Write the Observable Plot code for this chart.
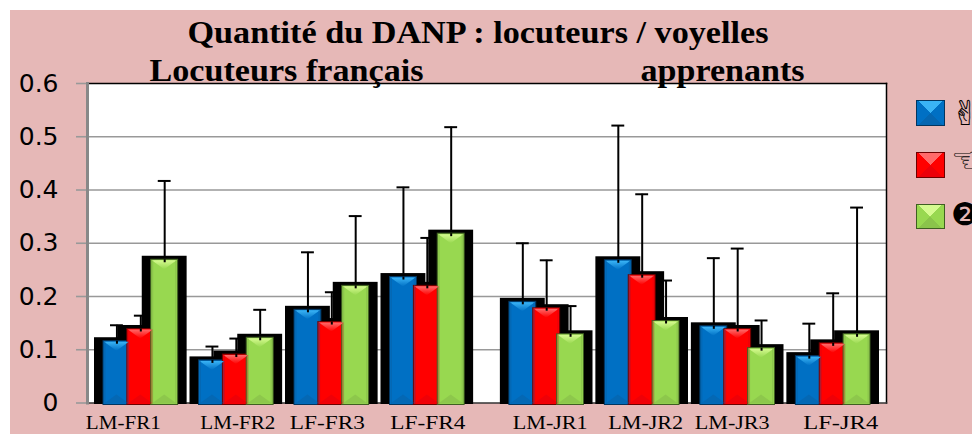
<!DOCTYPE html>
<html><head><meta charset="utf-8">
<script src="https://cdn.jsdelivr.net/npm/d3@7"></script>
<script src="https://cdn.jsdelivr.net/npm/@observablehq/plot@0.6"></script>
<style>
html,body{margin:0;padding:0;background:#fff;width:972px;height:434px;overflow:hidden}
#bg{position:absolute;left:10px;top:10px;right:0;bottom:0;background:#e6b8b7}
#chart{position:absolute;left:0;top:0}
#chart svg{background:transparent;display:block}
.sw{position:absolute;left:916px;width:27px;box-sizing:content-box;border:1px solid}
.gl{position:absolute;left:951px;white-space:nowrap;font-family:"DejaVu Sans";color:#000;line-height:1}
</style></head><body>
<div id="bg"></div><div id="chart"></div><div id="legend"></div>
<script>
const speakers = ["LM-FR1","LM-FR2","LF-FR3","LF-FR4","LM-JR1","LM-JR2","LM-JR3","LF-JR4"];
const seriesNames = ["✌","☜","❷"];
const blueValues = [0.116,0.080,0.175,0.2365,0.190,0.268,0.144,0.088];
const redValues  = [0.139,0.091,0.152,0.220,0.178,0.240,0.139,0.112];
const greenValues= [0.269,0.1225,0.220,0.318,0.129,0.154,0.103,0.129];
const blueTops   = [0.146,0.106,0.283,0.405,0.300,0.521,0.272,0.149];
const redTops    = [0.164,0.121,0.208,0.310,0.268,0.392,0.290,0.206];
const greenTops  = [0.417,0.175,0.351,0.518,0.182,0.230,0.155,0.367];
const yTicks = [0,0.1,0.2,0.3,0.4,0.5,0.6];

const colors = [
 {fill:"#0070c4",stroke:"#03355f",light:"#3ab4f6",dark:"#0a5c9e"},
 {fill:"#ff0000",stroke:"#6e0000",light:"#ff6a6a",dark:"#d80012"},
 {fill:"#98d850",stroke:"#3f5f22",light:"#d6fb90",dark:"#7db046"}
];
const valueSets=[blueValues,redValues,greenValues], topSets=[blueTops,redTops,greenTops];
const rows=[]; const domain=[];
speakers.forEach((s,i)=>{
  if(i>0) domain.push("gap"+i);
  if(i===4) domain.push("gapMid");
  valueSets.forEach((vals,k)=>{
    const slot=s+"|"+k; domain.push(slot);
    rows.push({slot,speaker:s,series:k,value:vals[i],top:topSets[k][i]});
  });
});

function bevel(index,scales,values,dims,ctx,next){
  const g=next(index,scales,values,dims,ctx);
  const ns="http://www.w3.org/2000/svg";
  const rects=[...g.querySelectorAll("rect")];
  rects.forEach((r,n)=>{
    const x=+r.getAttribute("x"),y=+r.getAttribute("y"),w=+r.getAttribute("width"),h=+r.getAttribute("height");
    const k=rows[index[n]].series, c=colors[k];
    const add=(pts,fill,op)=>{const p=document.createElementNS(ns,"polygon");
      p.setAttribute("points",pts.map(q=>q.join(",")).join(" "));p.setAttribute("fill",fill);
      if(op!=null)p.setAttribute("fill-opacity",op);g.appendChild(p);};
    const t=Math.min(10,h/2);
    add([[x+1,y+1],[x+w-1,y+1],[x+w/2,y+t]],`url(#top${k})`);
    add([[x+1,y+h-1],[x+w-1,y+h-1],[x+w/2,y+h-t]],c.dark,0.4);
    add([[x+1,y+1],[x+2.5,y+1],[x+2.5,y+h-1],[x+1,y+h-1]],c.dark,0.4);
    add([[x+w-2.5,y+1],[x+w-1,y+1],[x+w-1,y+h-1],[x+w-2.5,y+h-1]],c.dark,0.4);
  });
  return g;
}

const labelShift=[-16,3,-3,2,5,5,-4,9];
const serif="Liberation Serif";
const titleText="Quantité du DANP : locuteurs / voyelles", leftHead="Locuteurs français", rightHead="apprenants";
const stretched=new Map([[titleText,581],[leftHead,274],[rightHead,164],...speakers.map(s=>[s,75])]);

const plot=Plot.plot({
  width:972,height:434,
  marginLeft:87,marginRight:86,marginTop:83,marginBottom:31.5,
  style:{background:"transparent",overflow:"visible"},
  x:{type:"band",domain,range:[103,867],padding:0,round:false,axis:null},
  y:{domain:[0,0.6],axis:null},
  marks:[
    Plot.frame({fill:"#fff",stroke:"none"}),
    Plot.ruleY(yTicks.slice(1,-1),{stroke:"#999",strokeWidth:1.6}),
    Plot.axisY({ticks:yTicks,tickSize:11,tickPadding:18,stroke:"#999",strokeWidth:1.6,strokeOpacity:1,
      tickFormat:d=>d===0?"0":d.toFixed(1),fontSize:25,fontFamily:"DejaVu Sans",fill:"#000",label:null,marginLeft:87}),
    Plot.frame({anchor:"top",stroke:"#000",strokeWidth:1.5}),
    Plot.frame({anchor:"right",stroke:"#000",strokeWidth:1.5}),
    Plot.frame({anchor:"bottom",stroke:"#333",strokeWidth:1.5}),
    Plot.frame({anchor:"left",stroke:"#888",strokeWidth:3}),
    Plot.ruleX(rows,{x:"slot",y1:"value",y2:"top",dx:1.5,stroke:"#000",strokeWidth:2}),
    Plot.tickY(rows,{x:"slot",y:"top",dx:1.5,insetLeft:5.5,insetRight:5.5,stroke:"#000",strokeWidth:2}),
    Plot.barY(rows,{x:"slot",y:"value",fill:"#000",insetLeft:-9,insetRight:-12,insetTop:-3.5,insetBottom:-1.5}),
    Plot.barY(rows,{x:"slot",y:"value",fill:d=>colors[d.series].fill,stroke:d=>colors[d.series].stroke,strokeWidth:1,insetRight:-3,insetBottom:-2,render:bevel}),
    Plot.ruleX(rows,{x:"slot",y1:"value",y2:"value",dx:1.5,insetBottom:-3,stroke:"#000",strokeWidth:2}),
    ...speakers.map((s,i)=>Plot.text([s],{x:()=>s+"|1",text:d=>d,frameAnchor:"bottom",dy:26,dx:labelShift[i],
      fontFamily:serif,fontSize:19.5,fill:"#000"})),
    Plot.text([titleText],{text:d=>d,frameAnchor:"top-left",textAnchor:"start",lineAnchor:"bottom",dx:100,dy:-41,
      fontFamily:serif,fontWeight:"bold",fontSize:32,fill:"#000"}),
    Plot.text([leftHead],{text:d=>d,frameAnchor:"top-left",textAnchor:"start",lineAnchor:"bottom",dx:62,dy:-3,
      fontFamily:serif,fontWeight:"bold",fontSize:32,fill:"#000"}),
    Plot.text([rightHead],{text:d=>d,frameAnchor:"top-left",textAnchor:"start",lineAnchor:"bottom",dx:553,dy:-3,
      fontFamily:serif,fontWeight:"bold",fontSize:32,fill:"#000"})
  ]
});
document.getElementById("chart").appendChild(plot);
d3.select(plot).selectAll("text").each(function(){
  const L=stretched.get(this.textContent);
  if(L){this.setAttribute("textLength",L);this.setAttribute("lengthAdjust","spacingAndGlyphs");}
});
const defs=d3.select(plot).append("defs");
colors.forEach((c,k)=>{
  const g=defs.append("linearGradient").attr("id","top"+k).attr("x1",0).attr("y1",0).attr("x2",0).attr("y2",1);
  g.append("stop").attr("offset",0).attr("stop-color",c.light);
  g.append("stop").attr("offset",1).attr("stop-color",c.fill);
});

const legendTops=[100,152,204], legendH=[24,24,23], glyphSize=[34,36,31], glyphRaise=[-4,-10,-5];
const lg=document.getElementById("legend");
seriesNames.forEach((name,k)=>{
  const c=colors[k];
  const sw=document.createElement("div");sw.className="sw";
  sw.style.top=legendTops[k]+"px";sw.style.height=legendH[k]+"px";sw.style.borderColor=c.stroke;
  const soft=d3.interpolateRgb(c.fill,c.dark)(0.5);
  sw.style.background=`conic-gradient(from -45deg, ${c.light} 0 25%, ${c.fill} 25% 50%, ${soft} 50% 75%, ${c.fill} 75% 100%)`;
  lg.appendChild(sw);
  const t=document.createElement("div");t.className="gl";t.textContent=name;
  t.style.top=(legendTops[k]+glyphRaise[k])+"px";t.style.fontSize=glyphSize[k]+"px";
  lg.appendChild(t);
});
</script>
</body></html>
